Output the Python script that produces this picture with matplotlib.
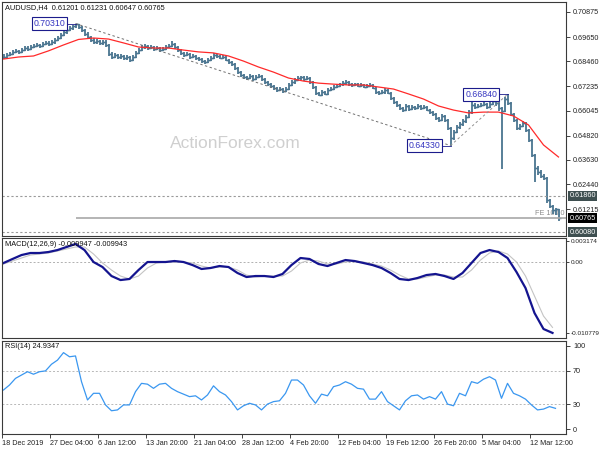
import matplotlib
matplotlib.use('Agg')
import matplotlib.pyplot as plt
import matplotlib.transforms as mtransforms

plt.rcParams['font.family'] = ['Liberation Sans', 'DejaVu Sans']

# ---------------- data ----------------
closes = [0.6867, 0.6877, 0.6882, 0.6892, 0.6897, 0.6892, 0.6901, 0.6911, 0.6906, 0.6916,
          0.6921, 0.6926, 0.6921, 0.6931, 0.6936, 0.6931, 0.6940, 0.6950, 0.6960, 0.6975,
          0.6990, 0.6999, 0.7009, 0.7019, 0.7027, 0.7014, 0.6999, 0.6980, 0.6965, 0.6950,
          0.6940, 0.6945, 0.6936, 0.6940, 0.6926, 0.6882, 0.6867, 0.6877, 0.6867, 0.6872,
          0.6862, 0.6867, 0.6852, 0.6867, 0.6887, 0.6901, 0.6916, 0.6921, 0.6911, 0.6916,
          0.6906, 0.6911, 0.6901, 0.6906, 0.6916, 0.6921, 0.6931, 0.6916, 0.6901, 0.6887,
          0.6877, 0.6882, 0.6867, 0.6872, 0.6862, 0.6857, 0.6847, 0.6842, 0.6852, 0.6862,
          0.6877, 0.6872, 0.6862, 0.6867, 0.6852, 0.6842, 0.6833, 0.6813, 0.6793, 0.6779,
          0.6769, 0.6764, 0.6774, 0.6759, 0.6769, 0.6774, 0.6759, 0.6744, 0.6734, 0.6725,
          0.6715, 0.6705, 0.6710, 0.6700, 0.6710, 0.6730, 0.6744, 0.6754, 0.6764, 0.6769,
          0.6759, 0.6764, 0.6744, 0.6720, 0.6691, 0.6681, 0.6695, 0.6686, 0.6705, 0.6710,
          0.6720, 0.6725, 0.6734, 0.6739, 0.6744, 0.6734, 0.6730, 0.6734, 0.6725, 0.6730,
          0.6720, 0.6725, 0.6730, 0.6715, 0.6695, 0.6691, 0.6695, 0.6705, 0.6691, 0.6666,
          0.6646, 0.6632, 0.6617, 0.6607, 0.6627, 0.6612, 0.6622, 0.6617, 0.6627, 0.6617,
          0.6622, 0.6607, 0.6597, 0.6588, 0.6568, 0.6558, 0.6578, 0.6558, 0.6519, 0.6470,
          0.6500, 0.6524, 0.6539, 0.6553, 0.6573, 0.6597, 0.6632, 0.6622, 0.6627, 0.6632,
          0.6637, 0.6622, 0.6637, 0.6651, 0.6640, 0.6615, 0.6600, 0.6660, 0.6640, 0.6590,
          0.6560, 0.6519, 0.6529, 0.6543, 0.6509, 0.6460, 0.6387, 0.6323, 0.6303, 0.6284,
          0.6274, 0.6166, 0.6137, 0.6117, 0.6120, 0.6077]
highs = [0.6880, 0.6885, 0.6893, 0.6900, 0.6906, 0.6903, 0.6910, 0.6919, 0.6920, 0.6925,
         0.6930, 0.6936, 0.6933, 0.6940, 0.6945, 0.6943, 0.6948, 0.6958, 0.6968, 0.6983,
         0.6998, 0.7008, 0.7017, 0.7026, 0.7031, 0.7030, 0.7020, 0.7005, 0.6988, 0.6972,
         0.6958, 0.6955, 0.6952, 0.6950, 0.6948, 0.6932, 0.6890, 0.6886, 0.6884, 0.6881,
         0.6878, 0.6876, 0.6872, 0.6875, 0.6895, 0.6910, 0.6924, 0.6930, 0.6926, 0.6924,
         0.6922, 0.6919, 0.6916, 0.6915, 0.6924, 0.6931, 0.6945, 0.6936, 0.6921, 0.6906,
         0.6892, 0.6890, 0.6887, 0.6880, 0.6878, 0.6868, 0.6862, 0.6854, 0.6860, 0.6870,
         0.6886, 0.6884, 0.6878, 0.6875, 0.6872, 0.6858, 0.6848, 0.6838, 0.6818, 0.6798,
         0.6785, 0.6776, 0.6782, 0.6779, 0.6777, 0.6783, 0.6779, 0.6764, 0.6750, 0.6740,
         0.6731, 0.6720, 0.6718, 0.6716, 0.6718, 0.6738, 0.6752, 0.6762, 0.6772, 0.6776,
         0.6775, 0.6772, 0.6769, 0.6750, 0.6725, 0.6697, 0.6703, 0.6701, 0.6713, 0.6718,
         0.6728, 0.6733, 0.6742, 0.6747, 0.6752, 0.6750, 0.6741, 0.6742, 0.6740, 0.6738,
         0.6736, 0.6733, 0.6739, 0.6736, 0.6720, 0.6702, 0.6703, 0.6713, 0.6710, 0.6696,
         0.6671, 0.6651, 0.6637, 0.6622, 0.6635, 0.6632, 0.6630, 0.6629, 0.6635, 0.6632,
         0.6630, 0.6627, 0.6613, 0.6603, 0.6593, 0.6574, 0.6586, 0.6583, 0.6563, 0.6524,
         0.6508, 0.6532, 0.6547, 0.6561, 0.6581, 0.6605, 0.6655, 0.6640, 0.6638, 0.6642,
         0.6647, 0.6642, 0.6648, 0.6662, 0.6660, 0.6645, 0.6620, 0.6672, 0.6684, 0.6645,
         0.6595, 0.6565, 0.6540, 0.6555, 0.6548, 0.6514, 0.6465, 0.6392, 0.6335, 0.6312,
         0.6295, 0.6280, 0.6172, 0.6143, 0.6128, 0.6123]
lows = [0.6855, 0.6860, 0.6870, 0.6876, 0.6885, 0.6884, 0.6887, 0.6895, 0.6898, 0.6900,
        0.6909, 0.6914, 0.6912, 0.6916, 0.6924, 0.6922, 0.6925, 0.6933, 0.6944, 0.6953,
        0.6968, 0.6982, 0.6992, 0.7001, 0.7010, 0.7005, 0.6990, 0.6970, 0.6955, 0.6941,
        0.6930, 0.6932, 0.6928, 0.6927, 0.6918, 0.6872, 0.6856, 0.6860, 0.6858, 0.6859,
        0.6852, 0.6853, 0.6844, 0.6846, 0.6861, 0.6880, 0.6895, 0.6908, 0.6903, 0.6904,
        0.6898, 0.6899, 0.6893, 0.6894, 0.6900, 0.6910, 0.6915, 0.6908, 0.6893, 0.6879,
        0.6868, 0.6870, 0.6859, 0.6860, 0.6853, 0.6849, 0.6840, 0.6834, 0.6836, 0.6846,
        0.6856, 0.6864, 0.6855, 0.6855, 0.6845, 0.6835, 0.6825, 0.6805, 0.6785, 0.6770,
        0.6761, 0.6756, 0.6757, 0.6751, 0.6752, 0.6762, 0.6751, 0.6736, 0.6726, 0.6717,
        0.6707, 0.6697, 0.6698, 0.6692, 0.6694, 0.6704, 0.6723, 0.6737, 0.6747, 0.6756,
        0.6751, 0.6752, 0.6737, 0.6712, 0.6683, 0.6674, 0.6676, 0.6679, 0.6680, 0.6698,
        0.6703, 0.6713, 0.6718, 0.6727, 0.6732, 0.6727, 0.6722, 0.6723, 0.6718, 0.6718,
        0.6713, 0.6713, 0.6718, 0.6708, 0.6687, 0.6683, 0.6684, 0.6688, 0.6684, 0.6658,
        0.6638, 0.6624, 0.6609, 0.6599, 0.6601, 0.6604, 0.6605, 0.6609, 0.6610, 0.6609,
        0.6610, 0.6600, 0.6589, 0.6580, 0.6560, 0.6550, 0.6552, 0.6550, 0.6510, 0.6433,
        0.6462, 0.6493, 0.6516, 0.6531, 0.6546, 0.6566, 0.6590, 0.6614, 0.6615, 0.6620,
        0.6625, 0.6614, 0.6615, 0.6630, 0.6625, 0.6600, 0.6318, 0.6598, 0.6630, 0.6580,
        0.6550, 0.6510, 0.6511, 0.6522, 0.6500, 0.6450, 0.6375, 0.6255, 0.6290, 0.6272,
        0.6262, 0.6150, 0.6125, 0.6100, 0.6093, 0.6065]

ma_values = [0.6857, 0.6867, 0.6872, 0.6897, 0.6926, 0.6953, 0.6960, 0.6955, 0.6936, 0.6916,
             0.6911, 0.6911, 0.6901, 0.6892, 0.6887, 0.6872, 0.6847, 0.6818, 0.6793, 0.6764,
             0.6749, 0.6739, 0.6734, 0.6730, 0.6730, 0.6720, 0.6710, 0.6686, 0.6661, 0.6627,
             0.6607, 0.6593, 0.6597, 0.6597, 0.6578, 0.6534, 0.6436, 0.6377]
ma_step = 5

macd_main = [-0.00015, 0.00046, 0.00106, 0.00137, 0.00137, 0.00152, 0.00182, 0.00228, 0.00274, 0.00182,
             0.0, -0.00076, -0.00213, -0.00274, -0.00258, -0.00122, 0.0, 0.0, 0.0, 0.00015,
             0.0, -0.00046, -0.00106, -0.00091, -0.00061, -0.00076, -0.00167, -0.00228, -0.00213, -0.00213,
             -0.00228, -0.00182, -0.00046, 0.00061, 0.00046, -0.00030, -0.00061, -0.00015, 0.00030, 0.00015,
             -0.00015, -0.00046, -0.00091, -0.00167, -0.00258, -0.00274, -0.00243, -0.00198, -0.00182, -0.00213,
             -0.00258, -0.00167, -0.00015, 0.00137, 0.00182, 0.00152, 0.00061, -0.00152, -0.00395, -0.00775,
             -0.01018, -0.010779]
macd_signal = [-0.00030, 0.00015, 0.00061, 0.00106, 0.00122, 0.00137, 0.00167, 0.00198, 0.00228, 0.00228,
               0.00122, -0.00015, -0.00122, -0.00213, -0.00258, -0.00213, -0.00091, -0.00015, 0.0, 0.0,
               0.0, -0.00015, -0.00061, -0.00091, -0.00076, -0.00076, -0.00122, -0.00198, -0.00228, -0.00213,
               -0.00213, -0.00213, -0.00137, -0.00015, 0.00030, 0.00015, -0.00030, -0.00030, 0.0, 0.00015,
               0.0, -0.00030, -0.00061, -0.00122, -0.00198, -0.00258, -0.00258, -0.00228, -0.00198, -0.00198,
               -0.00228, -0.00228, -0.00122, 0.00030, 0.00137, 0.00167, 0.00122, 0.0, -0.00213, -0.00517,
               -0.00821, -0.00994]
macd_step = 3

rsi_values = [47, 53, 61, 65, 69, 66, 69, 70, 78, 83, 92, 87, 88, 57, 35, 43, 43, 29, 22, 23,
              29, 29, 45, 55, 54, 49, 54, 55, 49, 45, 42, 39, 40, 35, 41, 52, 45, 41, 33, 23,
              28, 31, 29, 23, 30, 33, 34, 43, 59, 59, 53, 40, 31, 42, 40, 51, 53, 57, 54, 49,
              48, 36, 36, 45, 33, 28, 23, 34, 40, 41, 36, 39, 36, 45, 30, 28, 43, 40, 57, 55,
              60, 63, 59, 37, 55, 43, 40, 36, 29, 23, 24, 27, 24.9]
rsi_step = 2

x_labels = ['18 Dec 2019', '27 Dec 04:00', '6 Jan 12:00', '13 Jan 20:00', '21 Jan 04:00',
            '28 Jan 12:00', '4 Feb 20:00', '12 Feb 04:00', '19 Feb 12:00', '26 Feb 20:00',
            '5 Mar 04:00', '12 Mar 12:00']
label_every = 16

price_ticks = [0.70875, 0.69650, 0.68460, 0.67235, 0.66045, 0.64820, 0.63630, 0.62440, 0.61215]
macd_ticks = [0.003174, 0.0, -0.010779]
macd_tick_labels = ['0.003174', '0.00', '-0.010779']
rsi_ticks = [100, 70, 30, 0]

swing_high1 = (24, 0.7031, '0.70310')
swing_low = (149, 0.6433, '0.64330')
swing_high2 = (168, 0.6684, '0.66840')
level_lines = [0.6186, 0.6008]
fe_level = 0.6078
last_price = 0.60765

# ---------------- figure ----------------
W, H = 600, 450
fig = plt.figure(figsize=(6, 4.5), dpi=100)
fig.patch.set_facecolor('white')

def rect(top, bottom):
    return [2 / W, 1 - bottom / H, 564 / W, (bottom - top) / H]

ax1 = fig.add_axes(rect(2, 236))
ax2 = fig.add_axes(rect(238, 338))
ax3 = fig.add_axes(rect(341, 434))

n = len(closes)
xlim = (-0.5, 187.5)
spine_col = '#3a3a3a'
fs = 5.2

for ax in (ax1, ax2, ax3):
    ax.set_xlim(*xlim)
    for s in ax.spines.values():
        s.set_color(spine_col)
        s.set_linewidth(0.8)
    ax.yaxis.tick_right()
    ax.tick_params(axis='y', which='both', length=3, width=0.6, pad=2,
                   labelsize=fs, colors='#222222', direction='out')
    ax.tick_params(axis='x', length=0, labelbottom=False)
    ax.set_facecolor('white')

# ----- main price panel -----
idx = list(range(n))
bar_col = '#4a7590'
ax1.vlines(idx, lows, highs, color=bar_col, lw=1.3)
opens = [closes[0]] + closes[:-1]
ax1.hlines(opens, [i - 0.7 for i in idx], idx, color=bar_col, lw=1.0)
ax1.hlines(closes, idx, [i + 0.7 for i in idx], color=bar_col, lw=1.0)

ma_idx = [i * ma_step for i in range(len(ma_values))]
ax1.plot(ma_idx, ma_values, color='#ff2a2a', lw=0.9)

ax1.set_ylim(0.59899, 0.71365)
ax1.set_yticks(price_ticks)
ax1.set_yticklabels(['%.5f' % v for v in price_ticks])

# level lines
for lv in level_lines:
    ax1.axhline(lv, color='#9a9a9a', lw=0.8, ls=(0, (2, 2)))
ax1.hlines(fe_level, swing_high1[0], xlim[1], color='#a8a8a8', lw=1.2)
ax1.text(xlim[1] - 0.5, fe_level + 0.0004, 'FE 100.0', fontsize=fs, color='#8a8a8a',
         ha='right', va='bottom', zorder=0)

# trend lines
ax1.plot([swing_high1[0], swing_low[0]], [swing_high1[1], swing_low[1]],
         color='#707070', lw=0.7, ls=(0, (2.5, 2.5)))
ax1.plot([swing_low[0], swing_high2[0]], [swing_low[1], swing_high2[1]],
         color='#909090', lw=0.7, ls=(0, (2.5, 2.5)))

# swing labels
box = dict(facecolor='white', edgecolor='#1c1c8c', lw=0.8, pad=1.2)
for (bx, by, txt), dx in ((swing_high1, -3.0), (swing_low, -3.0), (swing_high2, -3.0)):
    ax1.plot([bx + dx, bx], [by, by], color='#1c1c8c', lw=0.6)
    ax1.text(bx + dx - 0.5, by, txt, fontsize=6.3, color='#3535c0', ha='right', va='center',
             bbox=box)

# right-side price boxes
trans = mtransforms.blended_transform_factory(ax1.transAxes, ax1.transData)
for val, txt, bg in ((0.6186, '0.61860', '#3e4f50'), (last_price, '0.60765', '#000000'),
                     (0.6008, '0.60080', '#3e4f50')):
    ax1.text(1.006, val, txt, transform=trans, fontsize=fs, color='white', ha='left',
             va='center', clip_on=False,
             bbox=dict(facecolor=bg, edgecolor='none', pad=1.0))

# title & watermark
fig.text(5 / W, 1 - 8 / H, 'AUDUSD,H4  0.61201 0.61231 0.60647 0.60765', fontsize=5.3,
         color='#111111', ha='left', va='center')
fig.text(235 / W, 1 - 143 / H, 'ActionForex.com', fontsize=12.5, color='#cfcfcf',
         ha='center', va='center')

# ----- MACD panel -----
m_idx = [i * macd_step for i in range(len(macd_main))]
ax2.axhline(0, color='#b0b0b0', lw=0.7, ls=(0, (2, 2)))
ax2.plot(m_idx, macd_signal, color='#c4c4c4', lw=0.8)
ax2.plot(m_idx, macd_main, color='#14148f', lw=1.6)
ax2.set_ylim(-0.01155, 0.00365)
ax2.set_yticks(macd_ticks)
ax2.set_yticklabels(macd_tick_labels)
ax2.tick_params(axis='y', labelsize=4.6, pad=0.8, length=2.5)
fig.text(5 / W, 1 - 244 / H, 'MACD(12,26,9) -0.009947 -0.009943', fontsize=5.3,
         color='#111111', ha='left', va='center')

# ----- RSI panel -----
r_idx = [i * rsi_step for i in range(len(rsi_values))]
for lv in (70, 30):
    ax3.axhline(lv, color='#b8b8b8', lw=0.7, ls=(0, (2, 2)))
ax3.plot(r_idx, rsi_values, color='#3a97f0', lw=0.9)
ax3.set_ylim(-6, 106)
ax3.set_yticks(rsi_ticks)
ax3.set_yticklabels([str(v) for v in rsi_ticks])
fig.text(5 / W, 1 - 347 / H, 'RSI(14) 24.9347', fontsize=5.3, color='#111111',
         ha='left', va='center')

xt = [-0.5 + label_every * k for k in range(len(x_labels))]
ax3.set_xticks(xt)
ax3.set_xticklabels(x_labels)
ax3.tick_params(axis='x', length=3, width=0.6, labelbottom=True, labelsize=fs, pad=1.5,
                colors='#222222')
for lab in ax3.get_xticklabels():
    lab.set_horizontalalignment('left')

fig.savefig('out.png', dpi=100, facecolor='white')
